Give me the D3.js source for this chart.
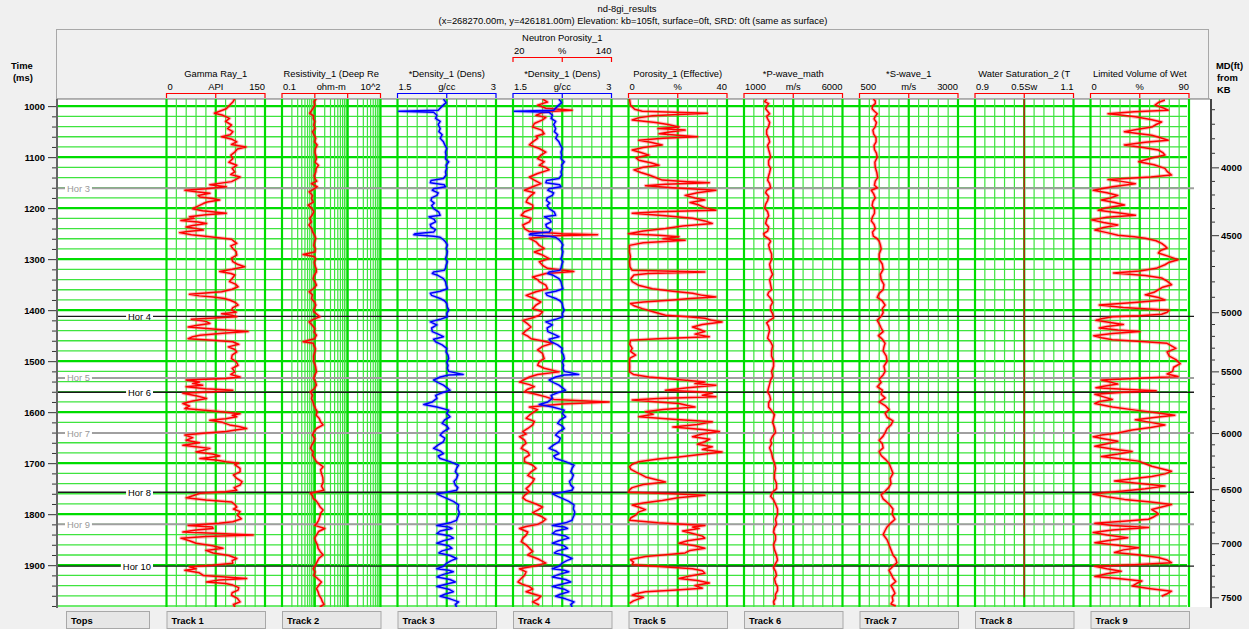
<!DOCTYPE html>
<meta charset="utf-8">
<script src="https://d3js.org/d3.v7.min.js"></script>
<style>
  body { margin: 0; background: #f0f0f0; }
  text { font-family: "Liberation Sans", Arial, sans-serif; font-size: 9.4px; }
</style>
<div id="my_dataviz"></div>
<script>

// ---- data: [time ms, value] pairs ----
var gammaRay = [[985,104],[992,101],[1005,91],[1014,73],[1018,86],[1024,96],[1030,90],[1037,99],[1044,93],[1050,101],[1056,97],[1060,84],[1065,100],[1070,107],[1075,99],[1080,121],[1084,108],[1090,104],[1096,98],[1103,101],[1110,95],[1116,107],[1122,100],[1129,104],[1134,98],[1139,112],[1144,105],[1148,99],[1154,66],[1158,91],[1162,60],[1165,28],[1168,45],[1171,66],[1175,48],[1178,51],[1181,70],[1184,81],[1188,62],[1191,56],[1196,48],[1201,40],[1205,55],[1210,91],[1213,60],[1217,35],[1220,42],[1224,22],[1227,48],[1230,61],[1234,40],[1237,30],[1240,45],[1243,56],[1246,32],[1248,20],[1252,38],[1256,66],[1261,99],[1265,103],[1269,107],[1274,98],[1279,101],[1285,106],[1292,107],[1298,99],[1305,101],[1310,108],[1315,119],[1320,100],[1324,81],[1328,98],[1331,104],[1338,100],[1344,96],[1349,105],[1354,109],[1359,100],[1364,84],[1369,35],[1372,50],[1374,71],[1377,88],[1380,96],[1385,105],[1390,109],[1395,101],[1400,99],[1404,106],[1407,84],[1410,100],[1413,107],[1418,38],[1422,60],[1426,66],[1430,45],[1433,33],[1438,80],[1442,124],[1445,90],[1449,51],[1452,40],[1456,33],[1459,70],[1462,101],[1467,110],[1472,94],[1477,104],[1482,107],[1488,100],[1495,99],[1501,106],[1508,109],[1514,100],[1521,104],[1526,98],[1531,112],[1534,90],[1537,30],[1541,50],[1544,40],[1547,55],[1550,30],[1554,60],[1557,101],[1560,70],[1563,25],[1568,45],[1573,61],[1578,40],[1583,25],[1588,35],[1593,28],[1598,75],[1603,112],[1606,100],[1609,107],[1613,90],[1616,66],[1620,85],[1625,96],[1628,110],[1632,122],[1635,105],[1638,91],[1641,60],[1645,28],[1650,40],[1655,30],[1660,50],[1665,25],[1668,45],[1671,66],[1675,55],[1678,45],[1682,70],[1686,81],[1689,65],[1691,51],[1694,75],[1697,91],[1700,110],[1703,104],[1710,112],[1717,112],[1723,102],[1730,107],[1736,115],[1743,112],[1748,103],[1753,107],[1756,90],[1759,51],[1764,40],[1768,30],[1772,60],[1776,99],[1781,104],[1786,107],[1790,102],[1795,112],[1802,108],[1809,114],[1815,101],[1818,80],[1822,33],[1825,70],[1828,71],[1831,45],[1835,25],[1838,80],[1841,132],[1844,60],[1847,22],[1852,35],[1857,45],[1862,70],[1867,86],[1871,60],[1876,71],[1881,95],[1887,107],[1891,100],[1896,101],[1900,70],[1903,35],[1907,45],[1910,28],[1915,50],[1920,56],[1923,90],[1926,122],[1929,80],[1933,61],[1936,90],[1939,101],[1944,110],[1949,109],[1954,100],[1959,99],[1965,108],[1972,112],[1977,102],[1982,104]];

var resistivity = [[985,1.12],[991,0.95],[998,1.0],[1006,0.85],[1014,0.70],[1019,0.92],[1024,0.89],[1030,1.0],[1037,0.93],[1044,1.02],[1050,0.85],[1057,0.95],[1063,1.07],[1070,0.98],[1076,1.18],[1083,1.05],[1090,1.0],[1097,1.08],[1103,1.12],[1110,1.02],[1116,1.29],[1122,1.1],[1129,1.07],[1136,0.96],[1142,1.0],[1147,1.15],[1152,0.79],[1158,1.18],[1163,0.9],[1168,0.67],[1175,0.85],[1181,0.79],[1188,0.9],[1194,0.63],[1200,0.8],[1207,0.93],[1214,0.82],[1220,0.70],[1227,0.78],[1233,0.66],[1240,0.8],[1246,0.85],[1252,0.95],[1259,1.07],[1266,0.98],[1273,0.93],[1280,1.05],[1286,1.0],[1291,0.44],[1295,0.95],[1299,1.07],[1306,0.96],[1312,1.0],[1319,1.1],[1325,1.12],[1332,0.95],[1338,0.89],[1345,1.02],[1351,1.12],[1358,0.9],[1364,0.67],[1370,0.85],[1377,0.79],[1384,0.98],[1390,1.07],[1397,0.95],[1403,0.93],[1408,1.15],[1413,1.42],[1418,0.9],[1423,0.67],[1430,0.85],[1436,1.0],[1443,0.95],[1449,1.12],[1456,0.98],[1462,0.44],[1465,0.9],[1469,0.93],[1476,1.05],[1482,1.0],[1490,0.92],[1501,0.93],[1510,1.05],[1521,1.12],[1528,0.98],[1534,0.93],[1541,1.05],[1547,1.12],[1554,0.95],[1560,0.74],[1567,0.85],[1573,0.79],[1580,0.88],[1586,0.93],[1593,1.05],[1599,1.18],[1606,1.1],[1612,1.35],[1619,1.5],[1625,1.79],[1632,1.12],[1638,0.95],[1645,0.85],[1652,1.0],[1658,0.93],[1665,0.8],[1671,0.74],[1678,0.9],[1684,0.85],[1691,0.98],[1697,1.12],[1702,1.4],[1707,1.79],[1713,1.5],[1720,1.59],[1728,1.75],[1737,1.79],[1745,1.6],[1753,1.87],[1759,0.74],[1764,0.85],[1769,0.89],[1774,1.1],[1779,1.26],[1786,1.45],[1792,1.79],[1798,1.5],[1805,1.42],[1812,1.3],[1818,1.15],[1822,1.0],[1828,2.01],[1834,1.3],[1841,1.12],[1847,0.98],[1854,1.07],[1860,1.2],[1867,1.26],[1873,1.45],[1880,1.79],[1886,1.35],[1893,1.18],[1900,1.05],[1907,0.89],[1913,1.02],[1920,0.93],[1926,1.2],[1933,1.59],[1940,1.3],[1946,1.12],[1952,1.25],[1959,1.35],[1965,1.55],[1972,1.71],[1977,1.9],[1982,1.42]];

var density = [[986,2.20],[993,2.24],[1000,2.18],[1008,2.12],[1010,1.52],[1012,2.05],[1018,2.10],[1024,2.08],[1030,2.15],[1036,2.12],[1044,2.15],[1050,2.13],[1056,2.18],[1063,2.15],[1070,2.20],[1076,2.22],[1083,2.25],[1090,2.23],[1097,2.24],[1103,2.23],[1109,2.28],[1116,2.24],[1122,2.25],[1129,2.23],[1135,2.24],[1142,2.20],[1146,2.01],[1150,2.0],[1154,2.21],[1158,2.23],[1162,2.05],[1165,2.03],[1170,2.12],[1175,2.10],[1180,2.02],[1185,2.01],[1190,2.06],[1195,2.02],[1201,2.05],[1208,2.13],[1214,2.15],[1217,1.98],[1222,2.06],[1227,2.08],[1232,2.0],[1237,2.01],[1242,2.08],[1247,2.05],[1250,1.77],[1252,1.75],[1255,2.05],[1257,2.15],[1262,2.20],[1266,2.23],[1272,2.26],[1279,2.24],[1285,2.26],[1292,2.25],[1299,2.23],[1305,2.26],[1312,2.24],[1318,2.23],[1322,2.21],[1325,2.05],[1328,2.03],[1331,2.10],[1338,2.20],[1344,2.23],[1350,2.24],[1358,2.26],[1363,2.15],[1367,2.0],[1371,2.02],[1377,2.15],[1382,2.22],[1387,2.25],[1394,2.26],[1400,2.28],[1407,2.25],[1413,2.26],[1418,2.15],[1423,2.0],[1429,2.10],[1435,2.02],[1442,2.03],[1447,2.12],[1452,2.20],[1457,2.05],[1462,2.08],[1468,2.18],[1475,2.25],[1482,2.24],[1488,2.27],[1495,2.28],[1502,2.25],[1508,2.27],[1514,2.26],[1520,2.28],[1526,2.5],[1527,2.28],[1531,2.15],[1537,2.05],[1542,2.12],[1547,2.20],[1552,2.25],[1557,2.30],[1562,2.18],[1567,2.08],[1573,2.10],[1580,2.03],[1585,1.90],[1590,2.10],[1596,2.28],[1602,2.25],[1609,2.30],[1615,2.22],[1622,2.18],[1627,2.25],[1632,2.28],[1638,2.20],[1645,2.15],[1651,2.22],[1658,2.20],[1664,2.12],[1671,2.05],[1676,2.15],[1681,2.20],[1686,2.12],[1691,2.15],[1697,2.30],[1704,2.43],[1710,2.40],[1717,2.38],[1723,2.42],[1730,2.40],[1736,2.36],[1743,2.38],[1748,2.42],[1753,2.40],[1757,2.25],[1760,2.10],[1765,2.18],[1769,2.25],[1775,2.35],[1782,2.43],[1790,2.42],[1796,2.44],[1802,2.43],[1808,2.41],[1812,2.40],[1817,2.30],[1822,2.10],[1825,2.28],[1828,2.33],[1833,2.15],[1838,2.10],[1843,2.30],[1847,2.35],[1852,2.20],[1857,2.10],[1862,2.28],[1867,2.33],[1872,2.18],[1876,2.13],[1881,2.30],[1887,2.40],[1891,2.32],[1896,2.25],[1902,2.20],[1907,2.10],[1910,2.28],[1913,2.35],[1918,2.20],[1923,2.10],[1928,2.30],[1933,2.38],[1938,2.22],[1942,2.10],[1947,2.28],[1952,2.35],[1957,2.22],[1961,2.15],[1966,2.30],[1972,2.43],[1977,2.38],[1982,2.40]];

var neutron = [[986,56],[992,62],[998,50],[1004,60],[1008,92],[1010,70],[1013,55],[1018,48],[1022,60],[1027,56],[1034,46],[1041,44],[1047,55],[1054,58],[1059,48],[1063,50],[1070,44],[1076,40],[1083,52],[1090,60],[1096,54],[1103,50],[1109,58],[1116,52],[1120,60],[1125,64],[1132,50],[1139,40],[1145,46],[1152,54],[1158,44],[1165,34],[1170,46],[1175,42],[1181,38],[1188,36],[1194,44],[1201,44],[1207,34],[1214,30],[1220,42],[1227,40],[1233,32],[1240,34],[1246,40],[1250,80],[1252,123],[1254,70],[1259,40],[1266,48],[1273,52],[1279,58],[1286,46],[1292,56],[1299,64],[1305,52],[1312,56],[1318,62],[1324,94],[1328,60],[1335,44],[1340,50],[1344,52],[1351,60],[1358,62],[1364,48],[1371,36],[1377,46],[1384,54],[1390,48],[1397,44],[1403,56],[1410,52],[1415,44],[1420,32],[1427,38],[1433,42],[1440,36],[1446,32],[1451,38],[1456,42],[1460,55],[1465,68],[1471,56],[1478,50],[1485,56],[1495,58],[1501,52],[1508,50],[1514,58],[1521,76],[1526,50],[1531,40],[1536,34],[1541,28],[1546,40],[1550,46],[1555,38],[1560,34],[1565,48],[1570,60],[1575,70],[1580,137],[1584,80],[1590,40],[1595,50],[1599,46],[1606,40],[1612,36],[1618,46],[1625,44],[1632,38],[1638,32],[1643,36],[1648,28],[1655,34],[1661,36],[1666,32],[1671,30],[1678,38],[1684,40],[1690,34],[1697,34],[1704,44],[1710,48],[1717,42],[1724,38],[1731,46],[1737,44],[1744,40],[1750,36],[1756,40],[1763,34],[1768,32],[1773,36],[1780,48],[1786,56],[1792,50],[1797,44],[1804,54],[1810,60],[1815,56],[1820,50],[1824,36],[1828,28],[1835,38],[1841,36],[1847,32],[1854,30],[1860,36],[1867,40],[1873,44],[1880,38],[1885,46],[1889,52],[1896,60],[1901,48],[1907,28],[1913,36],[1920,34],[1926,30],[1933,26],[1938,32],[1942,40],[1947,44],[1952,36],[1957,46],[1961,54],[1967,50],[1972,44],[1978,52]];

var porosity = [[986,0.4],[998,0.8],[1006,2.5],[1010,5.6],[1014,32],[1017,18],[1019,9.7],[1023,4],[1027,1.5],[1032,11],[1036,16],[1041,20.5],[1044,12],[1047,23],[1051,16],[1054,12.4],[1057,20],[1060,28],[1063,14],[1067,4.2],[1071,9],[1076,13.7],[1081,6],[1086,1.5],[1091,5],[1096,8.3],[1101,3],[1106,4.2],[1111,9],[1116,12.4],[1120,6],[1125,2.2],[1130,5],[1135,8.3],[1140,11],[1145,13.7],[1148,24],[1150,32.8],[1153,15],[1156,6.9],[1160,18],[1165,35.5],[1170,28],[1175,23],[1180,27],[1184,31],[1189,25],[1194,28.7],[1199,31],[1204,35.5],[1207,12],[1210,1.5],[1215,15],[1220,26],[1225,31],[1230,34],[1235,22],[1240,15],[1245,6],[1250,0],[1253,12],[1256,20.5],[1260,14],[1263,23],[1268,6],[1273,0.4],[1286,0.4],[1295,0.8],[1305,0.4],[1315,0.6],[1322,1.5],[1325,31],[1328,8],[1331,2.2],[1338,1.0],[1344,1.5],[1351,4],[1358,9.7],[1363,18],[1367,26],[1371,30],[1374,35.5],[1377,25],[1380,18],[1384,6],[1387,0.8],[1392,2.5],[1397,5.6],[1403,10],[1410,15],[1413,24],[1416,31],[1420,34],[1423,38],[1428,30],[1433,26],[1438,29],[1442,31],[1447,27],[1452,32.8],[1456,12],[1459,0.8],[1467,0.5],[1475,1.5],[1481,0.8],[1488,2.9],[1494,0.6],[1501,0.4],[1511,0.5],[1521,0.4],[1526,2],[1531,8.3],[1536,20],[1541,31],[1544,27],[1547,35.5],[1552,24],[1557,15],[1560,28],[1563,34],[1567,30],[1570,35.5],[1573,12],[1576,1.5],[1580,12],[1583,20.5],[1587,24],[1590,27],[1595,14],[1599,6.9],[1604,10],[1609,4.2],[1614,18],[1619,34],[1624,28],[1629,18],[1634,30],[1638,36.9],[1643,30],[1648,26],[1653,33],[1658,31],[1663,28],[1668,34],[1673,30],[1678,38],[1683,29],[1688,20.5],[1692,12],[1697,4.2],[1702,1.5],[1707,0.4],[1712,1.0],[1717,2.9],[1722,5],[1727,6.9],[1732,11],[1737,15],[1742,6],[1748,1.5],[1752,0.5],[1757,0],[1760,18],[1763,31],[1768,20],[1773,13.7],[1778,6],[1782,1.5],[1786,4],[1791,6.9],[1796,4],[1802,2.9],[1807,1],[1812,0.4],[1817,12],[1822,31],[1825,26],[1828,28.7],[1833,22],[1838,26],[1843,30],[1847,31],[1852,24],[1857,20.5],[1862,27],[1867,31],[1871,25],[1876,23],[1880,14],[1883,6.9],[1889,0.8],[1894,2],[1899,1.5],[1903,14],[1907,26],[1911,30],[1916,31],[1921,25],[1926,20.5],[1930,28],[1935,32.8],[1940,27],[1945,30],[1949,18],[1952,6.9],[1956,3],[1959,1.5],[1963,6],[1966,4.2],[1970,2],[1975,0.4]];

var pWave = [[986,2150],[991,2050],[995,2250],[1000,2150],[1005,2100],[1010,2200],[1015,2300],[1020,2150],[1025,2200],[1032,2300],[1040,2250],[1047,2150],[1055,2150],[1062,2250],[1070,2300],[1077,2200],[1085,2250],[1092,2300],[1100,2350],[1107,2250],[1115,2250],[1122,2350],[1130,2300],[1137,2250],[1145,2200],[1152,2300],[1160,2350],[1165,2150],[1170,2100],[1177,2250],[1185,2200],[1192,2100],[1200,2050],[1207,2200],[1215,2250],[1222,2150],[1230,2100],[1237,2250],[1245,2200],[1250,2000],[1255,2050],[1260,2250],[1265,2350],[1272,2250],[1280,2300],[1290,2400],[1300,2400],[1310,2300],[1320,2350],[1330,2450],[1340,2300],[1350,2350],[1360,2400],[1365,2250],[1370,2200],[1377,2350],[1385,2450],[1392,2350],[1400,2350],[1407,2450],[1415,2500],[1420,2300],[1425,2150],[1432,2250],[1440,2300],[1447,2250],[1455,2200],[1462,2350],[1470,2450],[1480,2400],[1490,2400],[1500,2500],[1510,2500],[1520,2400],[1530,2450],[1537,2350],[1545,2300],[1552,2250],[1560,2200],[1567,2300],[1575,2350],[1582,2250],[1590,2250],[1597,2400],[1605,2550],[1612,2500],[1620,2450],[1630,2550],[1640,2600],[1647,2450],[1655,2350],[1662,2400],[1670,2300],[1680,2400],[1690,2450],[1700,2550],[1710,2600],[1720,2550],[1730,2550],[1740,2650],[1750,2650],[1757,2450],[1765,2350],[1772,2500],[1780,2600],[1790,2700],[1800,2700],[1810,2600],[1820,2650],[1827,2550],[1835,2500],[1842,2600],[1850,2600],[1860,2500],[1870,2550],[1880,2650],[1890,2700],[1897,2600],[1905,2500],[1912,2600],[1920,2650],[1927,2550],[1935,2600],[1942,2700],[1950,2700],[1957,2600],[1965,2600],[1972,2500],[1978,2550]];

var sWave = [[986,850],[990,900],[995,900],[1000,830],[1005,820],[1010,880],[1015,950],[1020,900],[1025,870],[1032,930],[1040,900],[1047,840],[1055,860],[1062,920],[1070,920],[1077,870],[1085,880],[1092,930],[1100,950],[1110,890],[1120,900],[1130,940],[1140,960],[1147,900],[1155,880],[1160,950],[1165,800],[1172,860],[1180,900],[1187,840],[1195,820],[1202,880],[1210,880],[1217,830],[1225,800],[1232,870],[1240,900],[1247,830],[1255,850],[1260,950],[1265,1000],[1272,1030],[1280,1050],[1290,1000],[1300,1000],[1310,1080],[1320,1100],[1330,1030],[1340,1050],[1350,1120],[1360,1100],[1367,1000],[1375,950],[1382,1080],[1390,1150],[1397,1080],[1405,1100],[1412,1050],[1420,950],[1427,1000],[1435,1050],[1442,1100],[1450,980],[1457,1080],[1465,1150],[1472,1120],[1480,1100],[1490,1180],[1500,1200],[1510,1120],[1520,1150],[1527,1100],[1535,1000],[1542,1050],[1550,950],[1557,1080],[1565,1050],[1572,1150],[1580,1000],[1587,1150],[1595,1250],[1602,1150],[1610,1200],[1617,1350],[1625,1300],[1632,1200],[1640,1150],[1647,1100],[1655,1000],[1662,1080],[1670,1100],[1677,1000],[1685,1050],[1692,1150],[1700,1250],[1710,1300],[1720,1350],[1730,1280],[1740,1300],[1747,1250],[1755,1150],[1762,1050],[1770,1100],[1780,1250],[1790,1350],[1800,1330],[1810,1400],[1817,1300],[1825,1200],[1832,1150],[1840,1100],[1850,1200],[1860,1250],[1870,1300],[1880,1350],[1887,1420],[1895,1450],[1902,1350],[1910,1250],[1917,1300],[1925,1350],[1932,1420],[1940,1300],[1947,1350],[1955,1400],[1962,1330],[1970,1350],[1976,1300],[1980,1420]];

var waterSat = [[986,1.0],[1200,1.0],[1400,1.0],[1600,1.0],[1800,1.0],[1963,1.0]];

var wetVolume = [[988,68],[993,62],[998,59],[1003,66],[1008,71],[1011,40],[1015,16],[1018,30],[1021,41],[1026,55],[1031,65],[1036,60],[1041,56],[1046,42],[1050,31],[1054,45],[1057,56],[1062,64],[1067,71],[1071,50],[1076,31],[1081,48],[1086,62],[1091,66],[1096,68],[1102,55],[1109,44],[1115,58],[1122,68],[1128,70],[1135,74],[1139,55],[1144,16],[1148,30],[1152,41],[1158,20],[1165,2.5],[1170,15],[1175,25],[1180,18],[1184,10],[1189,22],[1194,31],[1199,15],[1204,7],[1209,25],[1214,41],[1218,15],[1223,1],[1228,12],[1233,25],[1238,12],[1243,4],[1248,15],[1253,25],[1256,40],[1259,50],[1264,60],[1269,65],[1274,68],[1278,70],[1283,64],[1288,62],[1295,72],[1301,80],[1306,72],[1311,68],[1318,60],[1323,45],[1327,21],[1332,50],[1337,65],[1343,70],[1350,74],[1355,66],[1360,62],[1365,58],[1370,50],[1375,62],[1380,68],[1385,40],[1390,8],[1395,30],[1400,72],[1404,70],[1408,65],[1411,45],[1413,20],[1417,10],[1420,5],[1424,18],[1428,30],[1432,15],[1435,8],[1439,25],[1442,45],[1446,20],[1450,3],[1454,10],[1458,20],[1462,50],[1465,70],[1470,74],[1475,78],[1482,70],[1490,72],[1497,78],[1505,82],[1512,76],[1520,75],[1525,70],[1530,80],[1534,40],[1537,10],[1541,18],[1545,25],[1549,12],[1552,5],[1555,30],[1558,60],[1561,30],[1565,4],[1570,12],[1575,20],[1579,8],[1583,4],[1590,20],[1596,41],[1601,60],[1606,77],[1610,60],[1615,41],[1620,55],[1625,68],[1630,55],[1635,38],[1641,25],[1645,10],[1648,2.5],[1652,12],[1657,25],[1662,15],[1667,4],[1672,20],[1677,38],[1682,25],[1687,10],[1691,25],[1696,44],[1701,50],[1706,56],[1711,65],[1716,74],[1721,68],[1726,56],[1730,40],[1735,22],[1740,45],[1745,68],[1750,50],[1755,28],[1758,12],[1761,2.5],[1766,15],[1771,31],[1776,55],[1781,74],[1786,65],[1791,56],[1796,60],[1800,62],[1805,58],[1810,53],[1814,30],[1818,4],[1822,20],[1826,53],[1831,20],[1836,2.5],[1841,15],[1846,34],[1851,18],[1856,4],[1861,25],[1866,44],[1870,30],[1875,22],[1880,45],[1885,62],[1890,70],[1895,74],[1899,40],[1902,4],[1907,15],[1912,28],[1917,15],[1922,4],[1926,25],[1931,47],[1936,42],[1941,38],[1946,55],[1951,74],[1956,70],[1961,65]];

// horizons (tops)
var horizonNames = ["Hor 3","Hor 4","Hor 5","Hor 6","Hor 7","Hor 8","Hor 9","Hor 10"];
var horizonTimes = [1161,1412,1533,1561,1641,1757,1820,1902];

// track headers
var trackTitles = ["Gamma Ray_1","Resistivity_1 (Deep Re","*Density_1 (Dens)","*Density_1 (Dens)","Porosity_1 (Effective)","*P-wave_math","*S-wave_1","Water Saturation_2 (T","Limited Volume of Wet"];
var trackUnits = ["API","ohm-m","g/cc","g/cc","%","m/s","m/s","0.5Sw","%"];
var trackLo = ["0","0.1","1.5","1.5","0","1000","500","0.9","0"];
var trackHi = ["150","10^2","3","3","40","6000","3000","1.1","90"];
var trackDomains = [[0,150],[0.1,100],[1.5,3],[1.5,3],[0,40],[1000,6000],[500,3000],[0.9,1.1],[0,90]];
var trackNames = ["Track 1","Track 2","Track 3","Track 4","Track 5","Track 6","Track 7","Track 8","Track 9"];

// time-depth table for the MD axis (MD ft -> time ms)
var mdDepths = [3600,4000,4500,5000,5500,6000,6500,7000,7500];
var mdTimes  = [1006,1120,1253,1404,1520,1641,1751,1857,1963];

// ---- layout ----
var W = 1249, H = 629;
var plotLeft = 57, plotRight = 1210, plotTop = 99, plotBottom = 607;
var track0 = 166.5, trackStep = 115.5, trackW = 98.5;
var gridRight = 1187;
var majorGreen = "#00dc00", minorGreen = "#3fe43f";

var svg = d3.select("#my_dataviz")
  .append("svg")
    .attr("width", W)
    .attr("height", H);

var y = d3.scaleLinear().domain([986, 1982]).range([plotTop, plotBottom]);

function trackLeft(i) { return track0 + i * trackStep; }
function xScale(i) {
  var d = trackDomains[i];
  var s = (i == 1) ? d3.scaleLog() : d3.scaleLinear();
  return s.domain(d).range([trackLeft(i), trackLeft(i) + trackW]);
}

// title
svg.append("text").attr("x", 627).attr("y", 12).attr("text-anchor", "middle").text("nd-8gi_results");
svg.append("text").attr("x", 633).attr("y", 24).attr("text-anchor", "middle")
  .text("(x=268270.00m, y=426181.00m) Elevation: kb=105ft, surface=0ft, SRD: 0ft (same as surface)");

// header box
svg.append("rect").attr("x", plotLeft - 0.5).attr("y", 29.5).attr("width", 1209 - plotLeft).attr("height", plotTop - 29.5)
  .attr("fill", "none").attr("stroke", "#a8a8a8");

// plot area
svg.append("rect").attr("x", plotLeft).attr("y", plotTop).attr("width", plotRight - plotLeft).attr("height", plotBottom - plotTop)
  .attr("fill", "#ffffff");
svg.append("line").attr("x1", plotLeft).attr("x2", plotRight).attr("y1", plotTop).attr("y2", plotTop)
  .attr("stroke", "#a0a0a0").attr("stroke-width", 1.5);

// horizontal grid
var grid = svg.append("g");
d3.range(1000, 1981, 20).forEach(function(t) {
  var major = t % 100 == 0;
  grid.append("line")
    .attr("x1", plotLeft).attr("x2", gridRight)
    .attr("y1", y(t)).attr("y2", y(t))
    .attr("stroke", major ? majorGreen : minorGreen)
    .attr("stroke-width", major ? 2.2 : 1.3);
});

// vertical grid per track
trackNames.forEach(function(n, i) {
  var sx = xScale(i);
  var vals = [];
  if (i == 1) {
    [0.1, 1, 10].forEach(function(dec) {
      for (var k = 1; k < 10; k++) vals.push({v: dec * k, major: k == 1});
    });
    vals.push({v: 100, major: true});
  } else {
    var d = trackDomains[i];
    for (var k = 0; k <= 10; k++) vals.push({v: d[0] + (d[1] - d[0]) * k / 10, major: k % 5 == 0});
  }
  vals.forEach(function(g) {
    grid.append("line")
      .attr("x1", sx(g.v)).attr("x2", sx(g.v))
      .attr("y1", plotTop).attr("y2", plotBottom)
      .attr("stroke", g.major ? majorGreen : minorGreen)
      .attr("stroke-width", g.major ? 2.2 : 1.2);
  });
});

// track headers
var hdr = svg.append("g");
trackNames.forEach(function(n, i) {
  var l = trackLeft(i), r = l + trackW, m = l + trackW / 2;
  var col = (i == 2 || i == 3) ? "#0000ff" : "#ff0000";
  hdr.append("text").attr("x", m).attr("y", 77).attr("text-anchor", "middle").text(trackTitles[i]);
  hdr.append("text").attr("x", l + 1).attr("y", 90).text(trackLo[i]);
  hdr.append("text").attr("x", m).attr("y", 90).attr("text-anchor", "middle").text(trackUnits[i]);
  hdr.append("text").attr("x", r).attr("y", 90).attr("text-anchor", "end").text(trackHi[i]);
  var p = "M" + l + ",98V93.5H" + r + "V98";
  if (i == 1) {
    var sx = xScale(i);
    p += "M" + sx(1) + ",93.5V98M" + sx(10) + ",93.5V98";
  } else {
    p += "M" + m + ",93.5V98";
  }
  hdr.append("path").attr("d", p).attr("fill", "none").attr("stroke", col).attr("stroke-width", 1.2);
});

// neutron porosity header above track 4
(function() {
  var l = trackLeft(3), r = l + trackW, m = l + trackW / 2;
  hdr.append("text").attr("x", m).attr("y", 41).attr("text-anchor", "middle").text("Neutron Porosity_1");
  hdr.append("text").attr("x", l + 1).attr("y", 54).text("20");
  hdr.append("text").attr("x", m).attr("y", 54).attr("text-anchor", "middle").text("%");
  hdr.append("text").attr("x", r).attr("y", 54).attr("text-anchor", "end").text("140");
  hdr.append("path").attr("d", "M" + l + ",62V57.5H" + r + "V62M" + m + ",57.5V62")
    .attr("fill", "none").attr("stroke", "#ff0000").attr("stroke-width", 1.2);
})();

// axis captions
svg.append("text").attr("x", 11).attr("y", 69).attr("font-weight", "bold").text("Time");
svg.append("text").attr("x", 13).attr("y", 81).attr("font-weight", "bold").text("(ms)");
svg.append("text").attr("x", 1216).attr("y", 69).attr("font-weight", "bold").text("MD(ft)");
svg.append("text").attr("x", 1217).attr("y", 81).attr("font-weight", "bold").text("from");
svg.append("text").attr("x", 1217).attr("y", 93).attr("font-weight", "bold").text("KB");

// horizons
var horG = svg.append("g");
var darkHor = {"Hor 4": 1, "Hor 6": 1, "Hor 8": 1, "Hor 10": 1};
horizonNames.forEach(function(name, i) {
  var yy = y(horizonTimes[i]);
  var dark = darkHor[name];
  horG.append("line")
    .attr("x1", plotLeft).attr("x2", 1194)
    .attr("y1", yy).attr("y2", yy)
    .attr("stroke", dark ? "#1a1a1a" : "#a0a0a0")
    .attr("stroke-width", dark ? 1.3 : 2);
  var t = horG.append("text")
    .attr("y", yy + 3.5)
    .attr("font-size", 10)
    .attr("fill", dark ? "#000" : "#999")
    .text(name);
  if (dark) t.attr("x", 151).attr("text-anchor", "end");
  else t.attr("x", 67);
  var bb = t.node().getBBox();
  horG.insert("rect", "text:last-child")
    .attr("x", bb.x - 2).attr("y", yy - 3).attr("width", bb.width + 4).attr("height", 6)
    .attr("fill", "#fff");
});

// curves
var curveG = svg.append("g");
svg.append("clipPath").attr("id", "plotClip").append("rect")
  .attr("x", plotLeft).attr("y", plotTop).attr("width", plotRight - plotLeft).attr("height", plotBottom - plotTop);
curveG.attr("clip-path", "url(#plotClip)");

function drawCurve(data, sx, color, halo) {
  var line = d3.line()
    .x(function(d) { return sx(d[1]); })
    .y(function(d) { return y(d[0]); });
  curveG.append("path")
    .datum(data)
    .attr("d", line)
    .attr("fill", "none")
    .attr("stroke", halo)
    .attr("stroke-width", 3.6)
    .attr("stroke-linejoin", "round");
  curveG.append("path")
    .datum(data)
    .attr("d", line)
    .attr("fill", "none")
    .attr("stroke", color)
    .attr("stroke-width", 1.5)
    .attr("stroke-linejoin", "round");
}

var redHalo = "rgba(255,60,60,0.35)", blueHalo = "rgba(60,60,255,0.3)";
var neutronScale = d3.scaleLinear().domain([20, 140]).range([trackLeft(3), trackLeft(3) + trackW]);
drawCurve(gammaRay, xScale(0), "#ff0000", redHalo);
drawCurve(resistivity, xScale(1), "#ff0000", redHalo);
drawCurve(density, xScale(2), "#0000ff", blueHalo);
drawCurve(neutron, neutronScale, "#ff0000", redHalo);
drawCurve(density, xScale(3), "#0000ff", blueHalo);
drawCurve(porosity, xScale(4), "#ff0000", redHalo);
drawCurve(pWave, xScale(5), "#ff0000", redHalo);
drawCurve(sWave, xScale(6), "#ff0000", redHalo);
drawCurve(waterSat, xScale(7), "#b02a10", "none");
drawCurve(wetVolume, xScale(8), "#ff0000", redHalo);

// left time axis
var axL = svg.append("g").attr("transform", "translate(" + plotLeft + ",0)");
axL.call(d3.axisLeft(y).tickValues(d3.range(1020, 1981, 20).filter(function(t) { return t % 100 != 0; }))
  .tickSize(5).tickFormat(""));
axL.append("g").call(d3.axisLeft(y).tickValues(d3.range(1000, 1901, 100)).tickSize(9).tickPadding(3)
  .tickFormat(d3.format("d")));
axL.selectAll("path.domain").remove();
axL.selectAll("line").attr("stroke", "#333");
axL.selectAll("text").attr("font-weight", "bold").attr("font-size", 9.4).attr("fill", "#000")
  .attr("font-family", "Liberation Sans, Arial, sans-serif");
svg.append("line").attr("x1", plotLeft).attr("x2", plotLeft).attr("y1", plotTop).attr("y2", plotBottom + 1)
  .attr("stroke", "#666").attr("stroke-width", 2);

// right MD axis
var md = d3.scaleLinear().domain(mdDepths).range(mdTimes.map(y));
var axR = svg.append("g").attr("transform", "translate(" + 1211 + ",0)");
axR.call(d3.axisRight(md).tickValues(d3.range(3600, 7601, 100).filter(function(v) { return v % 500 != 0 && md(v) <= plotBottom; }))
  .tickSize(4).tickFormat(""));
axR.append("g").call(d3.axisRight(md).tickValues(d3.range(4000, 7501, 500)).tickSize(8).tickPadding(2)
  .tickFormat(d3.format("d")));
axR.selectAll("path.domain").remove();
axR.selectAll("line").attr("stroke", "#333");
axR.selectAll("text").attr("font-weight", "bold").attr("font-size", 9.4).attr("fill", "#000")
  .attr("font-family", "Liberation Sans, Arial, sans-serif");
svg.append("line").attr("x1", 1211).attr("x2", 1211).attr("y1", plotTop).attr("y2", plotBottom + 1)
  .attr("stroke", "#444").attr("stroke-width", 2);

// bottom buttons
var btn = svg.append("g");
var btnBoxes = [{name: "Tops", l: 66, r: 149}].concat(trackNames.map(function(n, i) {
  return {name: n, l: trackLeft(i), r: trackLeft(i) + trackW};
}));
btnBoxes.forEach(function(b) {
  btn.append("rect").attr("x", b.l + 0.5).attr("y", 611.5).attr("width", b.r - b.l).attr("height", 17)
    .attr("fill", "#e6e6e6").attr("stroke", "#a8a8a8");
  btn.append("text").attr("x", b.l + 5).attr("y", 624).attr("font-weight", "bold").text(b.name);
});

</script>
